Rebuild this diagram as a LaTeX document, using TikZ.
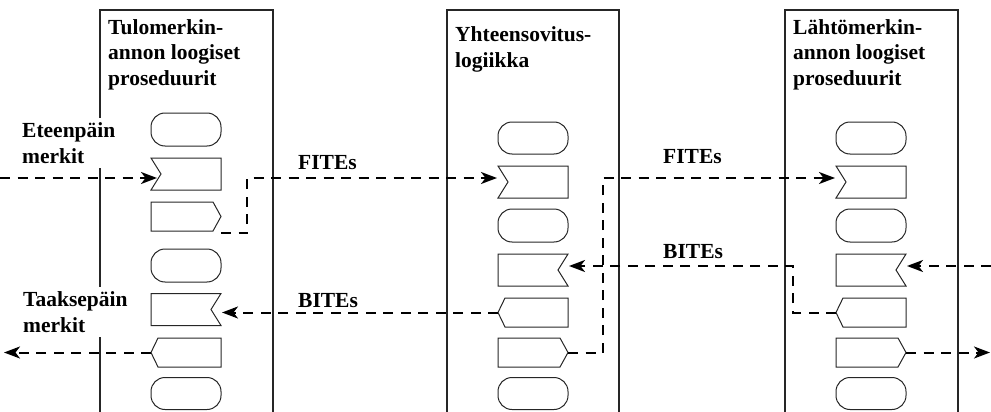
\documentclass[tikz,border=0pt]{standalone}
\usepackage{fontspec}
\setmainfont{Liberation Serif}
\usetikzlibrary{arrows.meta,calc}
\tikzset{
  frame/.style={line width=1.1pt, draw=black!85},
  slot/.style={rectangle, minimum width=70pt, minimum height=#1, inner sep=0pt, outer sep=0pt},
  roundslot/.style={slot=#1, draw=black!85, line width=1pt, rounded corners=14pt},
  outline/.style={draw=black!85, line width=1pt, line join=miter},
  lbl/.style={font=\bfseries\fontsize{21.5}{25.5}\selectfont, align=left, anchor=base west, inner sep=0pt},
  sidelbl/.style={lbl, fill=white, inner sep=5pt},
  flow/.style={line width=2pt, dash pattern=on 10pt off 7.5pt, -{Stealth[length=16pt,width=12pt,inset=4.5pt]}},
}
\newcommand{\shpNotchW}[1]{\draw[outline] (#1.north west) -- (#1.north east) -- (#1.south east) -- (#1.south west) -- ($(#1.west)+(10,0)$) -- cycle;}
\newcommand{\shpNotchE}[1]{\draw[outline] (#1.north west) -- (#1.north east) -- ($(#1.east)+(-10,0)$) -- (#1.south east) -- (#1.south west) -- cycle;}
\newcommand{\shpPointE}[1]{\draw[outline] (#1.north west) -- ($(#1.north east)+(-8,0)$) -- (#1.east) -- ($(#1.south east)+(-8,0)$) -- (#1.south west) -- cycle;}
\newcommand{\shpPointW}[1]{\draw[outline] (#1.west) -- ($(#1.north west)+(7,0)$) -- (#1.north east) -- (#1.south east) -- ($(#1.south west)+(7,0)$) -- cycle;}
\begin{document}
\begin{tikzpicture}[x=1pt,y=-1pt]
\useasboundingbox (0,0) rectangle (991,412);
% column frames
\draw[frame] (100,414) -- (100,10) -- (273,10) -- (273,414);
\draw[frame] (447,414) -- (447,10) -- (619,10) -- (619,414);
\draw[frame] (785,414) -- (785,10) -- (958,10) -- (958,414);

% column 1
\node[roundslot=33pt] (c1a) at (186,129.5) {};
\node[slot=32pt] (c1b) at (186,174) {}; \shpNotchW{c1b}
\node[slot=29pt] (c1c) at (186,216.5) {}; \shpPointE{c1c}
\node[roundslot=33pt] (c1d) at (186,265.5) {};
\node[slot=32pt] (c1e) at (186,309.5) {}; \shpNotchE{c1e}
\node[slot=29pt] (c1f) at (186,352.5) {}; \shpPointW{c1f}
\node[roundslot=32pt] (c1g) at (186,393.5) {};

% column 2
\node[roundslot=32pt] (c2a) at (533,138) {};
\node[slot=32pt] (c2b) at (533,182) {}; \shpNotchW{c2b}
\node[roundslot=33pt] (c2c) at (533,225.5) {};
\node[slot=32pt] (c2d) at (533,270) {}; \shpNotchE{c2d}
\node[slot=29pt] (c2e) at (533,312.5) {}; \shpPointW{c2e}
\node[slot=29pt] (c2f) at (533,352.5) {}; \shpPointE{c2f}
\node[roundslot=32pt] (c2g) at (533,393.5) {};

% column 3
\node[roundslot=32pt] (c3a) at (871,138) {};
\node[slot=32pt] (c3b) at (871,182) {}; \shpNotchW{c3b}
\node[roundslot=33pt] (c3c) at (871,225.5) {};
\node[slot=32pt] (c3d) at (871,270) {}; \shpNotchE{c3d}
\node[slot=29pt] (c3e) at (871,312.5) {}; \shpPointW{c3e}
\node[slot=29pt] (c3f) at (871,352.5) {}; \shpPointE{c3f}
\node[roundslot=32pt] (c3g) at (871,393.5) {};

% labels (anchor = baseline of last line)
\node[lbl] (t1) at (108,85) {Tulomerkin-\\annon loogiset\\proseduurit};
\node[lbl] (t2) at (455,67) {Yhteensovitus-\\logiikka};
\node[lbl] (t3) at (793,85) {Lähtömerkin-\\annon loogiset\\proseduurit};
\node[sidelbl] (le) at (17,163) {Eteenpäin\\merkit};
\node[sidelbl] (lt) at (18,332) {Taaksepäin\\merkit};
\node[lbl] (f1) at (298,169) {FITEs};
\node[lbl] (b1) at (298,307) {BITEs};
\node[lbl] (f2) at (663,163) {FITEs};
\node[lbl] (b2) at (663,258) {BITEs};

% connectors
\coordinate (eIn) at (0,178);
\coordinate (bIn) at (991,266);
\coordinate (bOut) at (4,352.5);
\coordinate (fOut) at (990,352.5);
\draw[flow] (eIn) -- ($(c1b.west)+(6,4)$);
\draw[flow] ($(c1c.south east)+(0,2)$) -- ++(26,0) |- ($(c2b.west)+(-1,-4)$);
\draw[flow] (c2f.east) -- ++(35,0) |- ($(c3b.west)+(-1,-4)$);
\draw[flow] (bIn) -- ($(c3d.east)+(1,-4)$);
\draw[flow] (c3e.west) -- ++(-43,0) |- ($(c2d.east)+(1,-4)$);
\draw[flow] (c2e.west) -- ($(c1e.east)+(1,3)$);
\draw[flow] (c1f.west) -- (bOut);
\draw[flow] (c3f.east) -- (fOut);
\end{tikzpicture}
\end{document}
